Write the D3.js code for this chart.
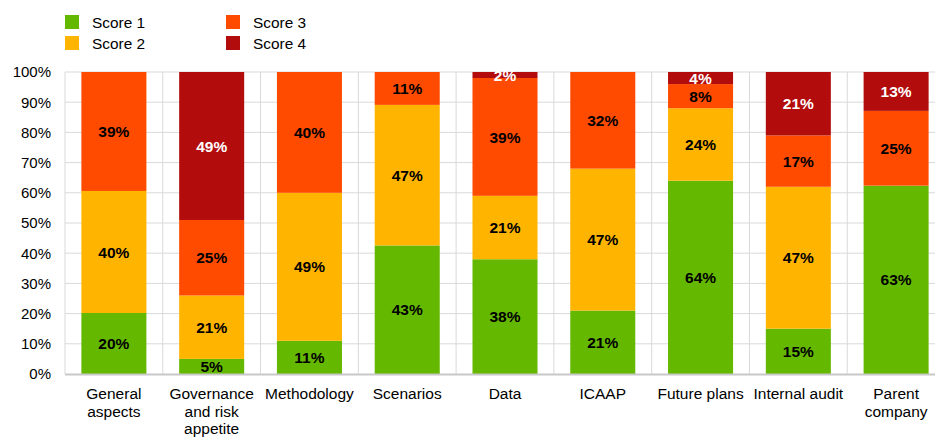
<!DOCTYPE html>
<html>
<head>
<meta charset="utf-8">
<style>
  body { margin: 0; background: #fff; }
  svg { display: block; font-family: "Liberation Sans", Arial, sans-serif; }
</style>
</head>
<body>
<script src="https://d3js.org/d3.v7.min.js"></script>
<script>
// categories (each entry split into label lines)
var categories = ["General aspects", "Governance and risk appetite", "Methodology", "Scenarios",
                  "Data", "ICAAP", "Future plans", "Internal audit", "Parent company"];
var categoryLines = [["General", "aspects"], ["Governance", "and risk", "appetite"], ["Methodology"],
                     ["Scenarios"], ["Data"], ["ICAAP"], ["Future plans"], ["Internal audit"], ["Parent", "company"]];

var seriesNames = ["Score 1", "Score 2", "Score 3", "Score 4"];
var score1 = [20, 5, 11, 43, 38, 21, 64, 15, 63];
var score2 = [40, 21, 49, 47, 21, 47, 24, 47, 0];
var score3 = [39, 25, 40, 11, 39, 32, 8, 17, 25];
var score4 = [0, 49, 0, 0, 2, 0, 4, 21, 13];
var yTicks = [0, 0.1, 0.2, 0.3, 0.4, 0.5, 0.6, 0.7, 0.8, 0.9, 1];

var colors = ["#65b800", "#ffb400", "#ff4b00", "#b20c0c"];
var labelColors = ["#000", "#000", "#000", "#fff"];

var W = 935, H = 437;
var margin = {top: 72, left: 65, bottom: 63};
var plotRight = 945;   // the plot runs slightly past the right edge

var rows = categories.map(function(c, i) {
  return {cat: c, "Score 1": score1[i], "Score 2": score2[i], "Score 3": score3[i], "Score 4": score4[i]};
});

var stack = d3.stack().keys(seriesNames).offset(d3.stackOffsetExpand);
var layers = stack(rows);

var svg = d3.select("body").append("svg")
  .attr("width", W)
  .attr("height", H);

var x = d3.scaleBand()
  .domain(categories)
  .range([margin.left, plotRight])
  .paddingInner(0.335)
  .paddingOuter(0.1675);

var y = d3.scaleLinear()
  .domain([0, 1])
  .range([H - margin.bottom, margin.top]);

// gridlines
var grid = svg.append("g");
grid.selectAll("line.h")
  .data(yTicks.slice(1))
  .enter().append("line")
  .attr("x1", margin.left).attr("x2", plotRight)
  .attr("y1", function(d) { return y(d); })
  .attr("y2", function(d) { return y(d); })
  .attr("stroke", "#d9d9d9")
  .attr("stroke-width", 1);

var step = x.step();
grid.selectAll("line.v")
  .data(d3.range(categories.length + 1))
  .enter().append("line")
  .attr("x1", function(i) { return margin.left + i * step; })
  .attr("x2", function(i) { return margin.left + i * step; })
  .attr("y1", y(1)).attr("y2", y(0))
  .attr("stroke", "#d9d9d9")
  .attr("stroke-width", 1);

// bars
var layer = svg.append("g").selectAll("g")
  .data(layers)
  .enter().append("g")
  .attr("fill", function(d, i) { return colors[i]; });

layer.selectAll("rect")
  .data(function(d) { return d.filter(function(s) { return s[1] - s[0] > 0; }); })
  .enter().append("rect")
  .attr("x", function(d) { return x(d.data.cat); })
  .attr("width", x.bandwidth())
  .attr("y", function(d) { return y(d[1]); })
  .attr("height", function(d) { return y(d[0]) - y(d[1]); });

// bottom axis line
svg.append("line")
  .attr("x1", margin.left).attr("x2", plotRight)
  .attr("y1", y(0) + 0.5).attr("y2", y(0) + 0.5)
  .attr("stroke", "#c8c8c8")
  .attr("stroke-width", 2);

// value labels
var labelG = svg.append("g");
layers.forEach(function(L, li) {
  L.forEach(function(s, ci) {
    var v = s.data[L.key];
    if (!v) return;
    labelG.append("text")
      .attr("x", x(s.data.cat) + x.bandwidth() / 2)
      .attr("y", (y(s[0]) + y(s[1])) / 2)
      .attr("dy", "0.36em")
      .attr("text-anchor", "middle")
      .attr("font-size", 15.5)
      .attr("font-weight", "bold")
      .attr("fill", labelColors[li])
      .text(v + "%");
  });
});

// y axis labels
var yAxis = svg.append("g")
  .attr("transform", "translate(51,0)")
  .call(d3.axisLeft(y).tickValues(yTicks).tickFormat(d3.format(".0%")).tickSize(0).tickPadding(0));
yAxis.select(".domain").remove();
yAxis.selectAll("text")
  .attr("font-family", "Liberation Sans, Arial, sans-serif")
  .attr("font-size", 15)
  .attr("fill", "#000");

// category labels
var catG = svg.append("g");
categories.forEach(function(c, i) {
  var t = catG.append("text")
    .attr("x", x(c) + x.bandwidth() / 2)
    .attr("y", 399)
    .attr("text-anchor", "middle")
    .attr("font-size", 15.5)
    .attr("fill", "#000");
  categoryLines[i].forEach(function(line, k) {
    t.append("tspan")
      .attr("x", x(c) + x.bandwidth() / 2)
      .attr("y", 399 + k * 17.5)
      .text(line);
  });
});

// legend
var legendPos = [[65, 15], [65, 36], [226, 15], [226, 36]];
var legend = svg.append("g");
seriesNames.forEach(function(name, i) {
  legend.append("rect")
    .attr("x", legendPos[i][0]).attr("y", legendPos[i][1])
    .attr("width", 14).attr("height", 14)
    .attr("fill", colors[i]);
  legend.append("text")
    .attr("x", legendPos[i][0] + 27)
    .attr("y", legendPos[i][1] + 12.5)
    .attr("font-size", 15.4)
    .attr("fill", "#000")
    .text(name);
});
</script>
</body>
</html>
